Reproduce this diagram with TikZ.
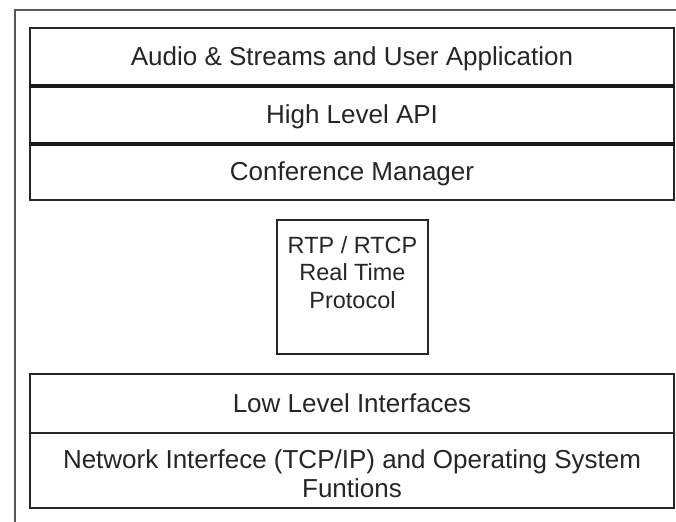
\documentclass[tikz,border=0pt]{standalone}
\usepackage{fontspec}
\setmainfont{Liberation Sans}
\begin{document}
\begin{tikzpicture}[x=0.75pt,y=-0.75pt,
  framestyle/.style={draw=black!65, line width=1.5pt},
  layer/.style={draw=black!85, line width=1.5pt, minimum width=483pt, inner sep=0pt,
    text height=14pt, text depth=0pt, text=black!85, font=\fontsize{19.5}{23}\selectfont},
  divider/.style={draw=black!90, line width=2.6pt},
  txt/.style={anchor=base, inner sep=0pt, text=black!85, font=\fontsize{19.5}{23}\selectfont},
  smalltxt/.style={txt, font=\fontsize{17.6}{21}\selectfont}]
\useasboundingbox (0,0) rectangle (676,522);
\fill[white] (0,0) rectangle (676,522);
% outer frame
\coordinate (fbl) at (15,522);
\coordinate (ftl) at (15,10);
\coordinate (ftr) at (676,10);
\draw[framestyle] (fbl) -- (ftl) -- (ftr);
% upper stack
\node[layer, minimum height=42.75pt] (app) at (352,56.5) {Audio \& Streams and User Application};
\node[layer, minimum height=43.5pt] (api) at (352,114) {High Level API};
\node[layer, minimum height=42.75pt] (cm) at (352,171.5) {Conference Manager};
\draw[divider] (app.south west) -- (app.south east);
\draw[divider] (api.south west) -- (api.south east);
% RTP box
\node[draw=black!85, line width=1.5pt, minimum width=113.25pt, minimum height=100.5pt, inner sep=0pt] (rtp) at (352.5,287) {};
\node[smalltxt] (rtp1) at (352.5,253) {RTP / RTCP};
\node[smalltxt] (rtp2) at (352.5,280.5) {Real Time};
\node[smalltxt] (rtp3) at (352.5,308) {Protocol};
% lower stack
\node[layer, minimum height=44.25pt] (low) at (352,403.5) {Low Level Interfaces};
\node[layer, minimum height=56.25pt] (net) at (352,470.5) {};
\node[txt] (net1) at (352,468) {Network Interfece (TCP/IP) and Operating System};
\node[txt] (net2) at (352,497) {Funtions};
\end{tikzpicture}
\end{document}
